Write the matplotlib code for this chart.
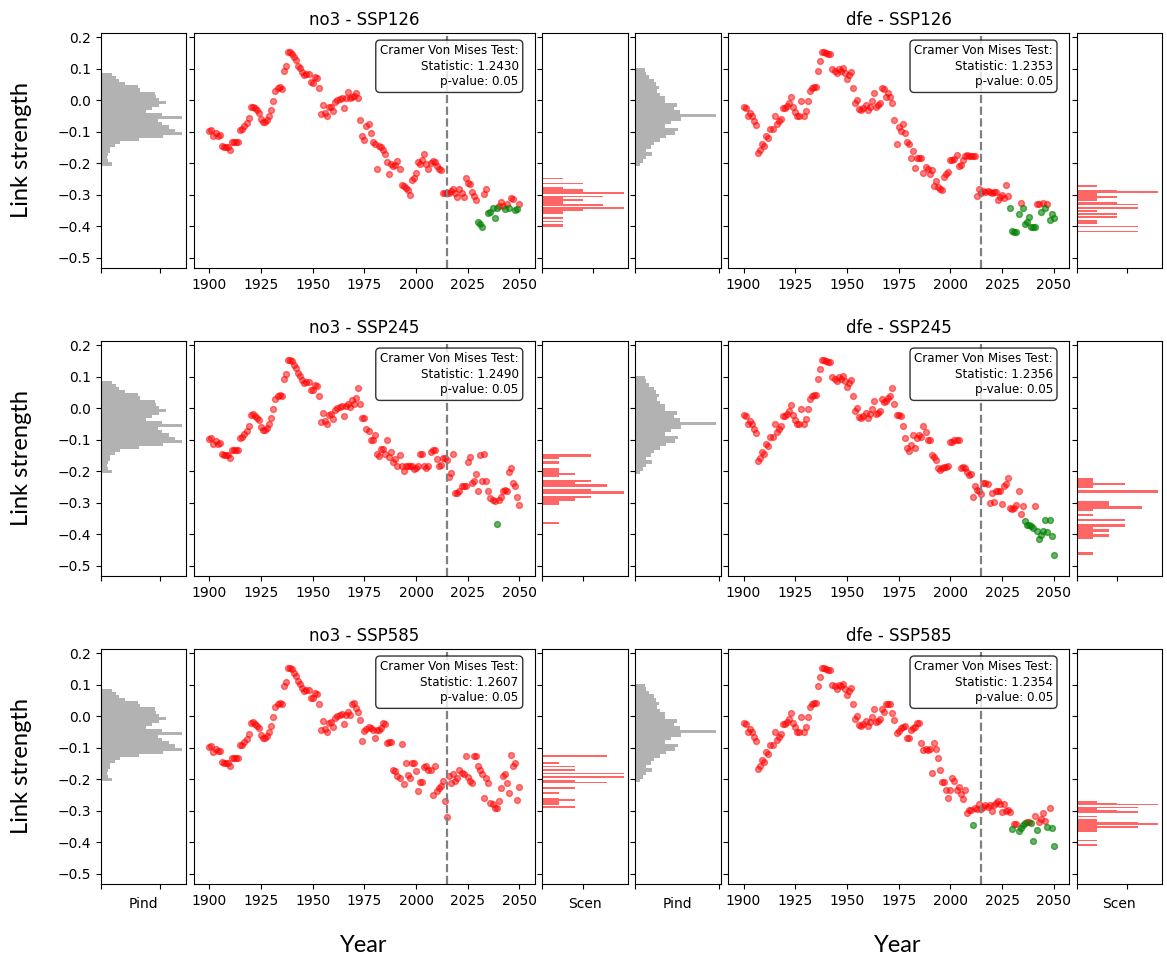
import matplotlib
matplotlib.use("Agg")
import matplotlib.pyplot as plt
import numpy as np

# ---------------- data ----------------
years = np.arange(1900, 2051)

# no3, 1900-1965 (same in every scenario)
no3_hist = [-0.099, -0.094, -0.115, -0.105, -0.112, -0.110,
            -0.144, -0.147, -0.149, -0.149, -0.159,
            -0.133, -0.133, -0.133, -0.133, -0.093,
            -0.091, -0.083, -0.073, -0.057, -0.023,
            -0.020, -0.025, -0.031, -0.039, -0.060,
            -0.070, -0.070, -0.063, -0.049, -0.030,
            -0.004, 0.029, 0.038, 0.043, 0.037,
            0.094, 0.108, 0.153, 0.153, 0.148,
            0.137, 0.126, 0.110, 0.101, 0.089,
            0.080, 0.084, 0.082, 0.058, 0.056,
            0.074, 0.071, 0.040, -0.044, -0.016,
            -0.041, -0.051, -0.023, -0.020, -0.035,
            -0.007, 0.001, 0.003, 0.006, -0.025]

# no3, 1966-2050
no3_ssp126 = [0.008, 0.027, 0.008, 0.010, 0.014,
              0.022, 0.008, -0.062, -0.114, -0.126,
              -0.083, -0.075, -0.105, -0.131, -0.138,
              -0.219, -0.144, -0.149, -0.159, -0.170,
              -0.196, -0.235, -0.203, -0.210, -0.206,
              -0.194, -0.217, -0.269, -0.271, -0.277,
              -0.285, -0.299, -0.254, -0.245, -0.231,
              -0.196, -0.201, -0.189, -0.172, -0.201,
              -0.217, -0.199, -0.194, -0.196, -0.209,
              -0.217, -0.222, -0.294, -0.294, -0.294,
              -0.294, -0.288, -0.282, -0.294, -0.306,
              -0.282, -0.294, -0.308, -0.245, -0.261,
              -0.266, -0.290, -0.303, -0.317, -0.385,
              -0.393, -0.403, -0.296, -0.280, -0.356,
              -0.353, -0.343, -0.372, -0.343, -0.334,
              -0.324, -0.334, -0.346, -0.330, -0.343,
              -0.309, -0.314, -0.348, -0.345, -0.329]
no3_ssp245 = [0.008, 0.014, 0.003, 0.026, 0.014,
              0.033, 0.064, 0.012, -0.030, -0.030,
              -0.065, -0.073, -0.100, -0.100, -0.086,
              -0.144, -0.152, -0.128, -0.128, -0.144,
              -0.102, -0.154, -0.138, -0.170, -0.160,
              -0.183, -0.149, -0.183, -0.198, -0.183,
              -0.183, -0.182, -0.183, -0.194, -0.189,
              -0.183, -0.146, -0.146, -0.183, -0.191,
              -0.183, -0.140, -0.133, -0.133, -0.160,
              -0.183, -0.180, -0.157, -0.157, -0.165,
              -0.217, -0.206, -0.146, -0.269, -0.269,
              -0.264, -0.248, -0.248, -0.246, -0.170,
              -0.154, -0.236, -0.231, -0.209, -0.264,
              -0.149, -0.231, -0.146, -0.231, -0.262,
              -0.285, -0.290, -0.294, -0.367, -0.290,
              -0.280, -0.264, -0.259, -0.261, -0.201,
              -0.191, -0.238, -0.248, -0.280, -0.306]
no3_ssp585 = [0.003, 0.014, 0.003, 0.037, 0.043,
              0.026, 0.014, -0.013, -0.079, -0.046,
              -0.041, -0.034, -0.039, -0.044, -0.070,
              -0.044, -0.044, -0.039, -0.023, -0.026,
              -0.084, -0.081, -0.081, -0.170, -0.175,
              -0.191, -0.196, -0.087, -0.215, -0.149,
              -0.185, -0.196, -0.149, -0.149, -0.173,
              -0.238, -0.210, -0.209, -0.162, -0.159,
              -0.170, -0.170, -0.250, -0.159, -0.236,
              -0.228, -0.220, -0.206, -0.269, -0.319,
              -0.191, -0.212, -0.184, -0.205, -0.196,
              -0.170, -0.180, -0.184, -0.125, -0.194,
              -0.205, -0.212, -0.125, -0.125, -0.159,
              -0.170, -0.184, -0.261, -0.196, -0.212,
              -0.275, -0.278, -0.290, -0.292, -0.269,
              -0.227, -0.191, -0.184, -0.212, -0.243,
              -0.123, -0.159, -0.149, -0.267, -0.225]

# dfe, 1900-1965
dfe_hist = [-0.023, -0.026, -0.049, -0.042, -0.051, -0.065,
            -0.078, -0.168, -0.159, -0.138, -0.146,
            -0.114, -0.121, -0.091, -0.091, -0.051,
            -0.075, -0.065, -0.058, -0.026, -0.026,
            -0.018, -0.009, 0.010, -0.023, -0.036,
            -0.051, -0.051, -0.002, -0.049, -0.034,
            -0.002, 0.029, 0.040, 0.043, 0.042,
            0.094, 0.124, 0.153, 0.153, 0.150,
            0.147, 0.145, 0.100, 0.094, 0.087,
            0.100, 0.094, 0.103, 0.087, 0.066,
            0.080, 0.089, 0.040, -0.009, 0.000,
            -0.028, -0.030, -0.026, -0.016, -0.031,
            -0.020, -0.002, 0.024, -0.020, -0.016]

# dfe, 1966-2050
dfe_ssp126 = [-0.009, 0.040, 0.035, 0.010, 0.024,
              0.010, -0.009, -0.063, -0.138, -0.086,
              -0.096, -0.075, -0.104, -0.131, -0.138,
              -0.183, -0.162, -0.215, -0.183, -0.183,
              -0.183, -0.231, -0.212, -0.217, -0.233,
              -0.222, -0.273, -0.257, -0.275, -0.280,
              -0.285, -0.243, -0.233, -0.227, -0.189,
              -0.191, -0.186, -0.173, -0.210, -0.204,
              -0.191, -0.177, -0.173, -0.178, -0.177,
              -0.177, -0.177, -0.304, -0.280, -0.294,
              -0.288, -0.290, -0.288, -0.290, -0.294,
              -0.292, -0.290, -0.317, -0.306, -0.301,
              -0.311, -0.269, -0.304, -0.343, -0.416,
              -0.418, -0.418, -0.362, -0.327, -0.341,
              -0.393, -0.385, -0.369, -0.401, -0.403,
              -0.401, -0.330, -0.330, -0.353, -0.327,
              -0.341, -0.330, -0.380, -0.362, -0.372]
dfe_ssp245 = [-0.009, 0.030, 0.020, 0.022, 0.033,
              0.040, 0.064, 0.014, -0.023, -0.023,
              -0.025, -0.055, -0.093, -0.125, -0.135,
              -0.117, -0.086, -0.126, -0.096, -0.086,
              -0.092, -0.058, -0.075, -0.100, -0.100,
              -0.149, -0.154, -0.165, -0.191, -0.196,
              -0.189, -0.185, -0.185, -0.183, -0.107,
              -0.107, -0.102, -0.102, -0.100, -0.191,
              -0.185, -0.191, -0.201, -0.212, -0.209,
              -0.282, -0.248, -0.259, -0.264, -0.273,
              -0.236, -0.238, -0.241, -0.301, -0.269,
              -0.298, -0.264, -0.262, -0.261, -0.304,
              -0.248, -0.240, -0.220, -0.317, -0.319,
              -0.315, -0.306, -0.262, -0.335, -0.311,
              -0.356, -0.369, -0.369, -0.374, -0.379,
              -0.311, -0.390, -0.414, -0.403, -0.390,
              -0.353, -0.393, -0.353, -0.406, -0.465]
dfe_ssp585 = [-0.009, 0.024, 0.014, 0.040, 0.040,
              0.040, 0.010, -0.013, -0.055, -0.047,
              -0.039, -0.036, -0.030, -0.070, -0.070,
              -0.044, -0.039, -0.036, -0.023, -0.023,
              -0.084, -0.107, -0.105, -0.107, -0.105,
              -0.180, -0.086, -0.105, -0.133, -0.170,
              -0.210, -0.210, -0.233, -0.261, -0.233,
              -0.196, -0.205, -0.233, -0.225, -0.248,
              -0.264, -0.235, -0.306, -0.296, -0.296,
              -0.345, -0.290, -0.294, -0.278, -0.294,
              -0.288, -0.283, -0.288, -0.283, -0.301,
              -0.282, -0.275, -0.269, -0.280, -0.304,
              -0.278, -0.301, -0.296, -0.304, -0.358,
              -0.343, -0.343, -0.364, -0.353, -0.346,
              -0.340, -0.337, -0.337, -0.340, -0.395,
              -0.317, -0.362, -0.337, -0.327, -0.306,
              -0.332, -0.351, -0.292, -0.353, -0.411]

# years drawn in green
green_no3_126 = [2030, 2031, 2032, 2035, 2036, 2037, 2038, 2039, 2043, 2045, 2048, 2049]
green_no3_245 = [2039]
green_no3_585 = []
green_dfe_126 = [2029, 2030, 2031, 2032, 2033, 2035, 2036, 2037, 2038, 2039, 2040,
                 2041, 2044, 2046, 2048, 2049, 2050]
green_dfe_245 = [2036, 2037, 2038, 2039, 2040, 2042, 2043, 2044, 2045, 2046,
                 2047, 2048, 2049, 2050]
green_dfe_585 = [2011, 2030, 2033, 2034, 2035, 2036, 2039, 2040, 2042, 2047, 2049, 2050]

# Cramer von Mises statistics
cvm_no3 = [1.2430, 1.2490, 1.2607]
cvm_dfe = [1.2353, 1.2356, 1.2354]
p_value = 0.05

scenarios = ['SSP126', 'SSP245', 'SSP585']

# pre-industrial histograms (30 bins, bar lengths top -> bottom)
pind_no3_range = (-0.207, 0.086)
pind_no3_counts = [0.9, 1.26, 1.5, 2.06, 3.14, 3.3, 4.6, 4.7, 4.9, 5.5,
                   4.9, 4.3, 3.8, 5.2, 6.9, 4.8, 5.2, 5.8, 6.3, 6.9,
                   5.3, 3.2, 1.6, 1.2, 0.8, 0.8, 0.6, 0.5, 0.6, 0.9]
pind_dfe_range = (-0.232, 0.102)
pind_dfe_counts = [1.2, 1.3, 1.7, 2.2, 2.5, 2.8, 2.6, 3.0, 3.5, 3.5,
                   5.0, 4.6, 5.4, 9.7, 5.5, 4.3, 3.5, 5.1, 4.8, 3.7,
                   3.0, 2.2, 1.9, 1.3, 2.0, 1.3, 0.9, 0.6, 0.0, 0.1]
pind_ticks = {'no3': [0, 5], 'dfe': [0, 10]}

# ---------------- figure ----------------
fig = plt.figure(figsize=(11.67, 9.58), dpi=100)
gs = fig.add_gridspec(3, 6, width_ratios=[1, 4, 1, 1, 4, 1],
                      left=101/1167, right=1162/1167, top=1-33/958, bottom=1-884/958,
                      wspace=0.044, hspace=0.31)

first = None
groups = [('no3', no3_hist, [no3_ssp126, no3_ssp245, no3_ssp585],
           [green_no3_126, green_no3_245, green_no3_585], cvm_no3,
           pind_no3_range, pind_no3_counts),
          ('dfe', dfe_hist, [dfe_ssp126, dfe_ssp245, dfe_ssp585],
           [green_dfe_126, green_dfe_245, green_dfe_585], cvm_dfe,
           pind_dfe_range, pind_dfe_counts)]

for g, (var, hist, tails, greens, cvm, prange, pcounts) in enumerate(groups):
    for row in range(3):
        vals = np.array(hist + tails[row])
        is_green = np.isin(years, greens[row])

        ax_p = fig.add_subplot(gs[row, 3*g], sharey=first)
        if first is None:
            first = ax_p
        ax_s = fig.add_subplot(gs[row, 3*g + 1], sharey=first)
        ax_f = fig.add_subplot(gs[row, 3*g + 2], sharey=first)

        # pre-industrial histogram
        edges = np.linspace(prange[0], prange[1], len(pcounts) + 1)
        centers = (edges[:-1] + edges[1:]) / 2
        ax_p.hist(centers, bins=edges, weights=pcounts[::-1], orientation='horizontal',
                  color='grey', alpha=0.6)
        ax_p.set_xticks(pind_ticks[var])
        ax_p.tick_params(labelbottom=False)
        if g == 0:
            ax_p.set_yticks([0.2, 0.1, 0.0, -0.1, -0.2, -0.3, -0.4, -0.5])
        else:
            ax_p.tick_params(labelleft=False)

        # time series
        ax_s.scatter(years[~is_green], vals[~is_green], color='red', alpha=0.5, s=18)
        ax_s.scatter(years[is_green], vals[is_green], color='green', alpha=0.6, s=18)
        ax_s.axvline(2015, color='grey', linestyle='--', linewidth=1.6)
        ax_s.set_xticks([1900, 1925, 1950, 1975, 2000, 2025, 2050])
        ax_s.tick_params(labelleft=False)
        ax_s.set_title(f'{var} - {scenarios[row]}', fontsize=12)
        ax_s.text(0.952, 0.952,
                  f'Cramer Von Mises Test:\nStatistic: {cvm[row]:.4f}\np-value: {p_value:.2f}',
                  transform=ax_s.transAxes, ha='right', va='top', fontsize=8.6,
                  linespacing=1.25,
                  bbox=dict(boxstyle='round,pad=0.35', facecolor='white',
                            edgecolor='black', alpha=0.8))

        # scenario histogram
        ax_f.hist(vals[years > 2015], bins=30, orientation='horizontal', color='red', alpha=0.6)
        ax_f.set_xticks([0, 2.5])
        ax_f.tick_params(labelbottom=False, labelleft=False)

        if row == 2:
            ax_p.set_xlabel('Pind', fontsize=10, labelpad=6)
            ax_f.set_xlabel('Scen', fontsize=10, labelpad=6)

first.set_ylim(-0.532, 0.213)

for row in range(3):
    yc = 1 - (33 + row*307.5 + 117.5) / 958
    fig.text(22/1167, yc, 'Link strength', rotation=90, ha='center', va='center',
             fontsize=17, family=['Lato', 'DejaVu Sans'])
for xc in [363.5, 898]:
    fig.text(xc/1167, 1 - 945/958, 'Year', ha='center', va='center',
             fontsize=17, family=['Lato', 'DejaVu Sans'])

fig.savefig('out.png', dpi=100)
